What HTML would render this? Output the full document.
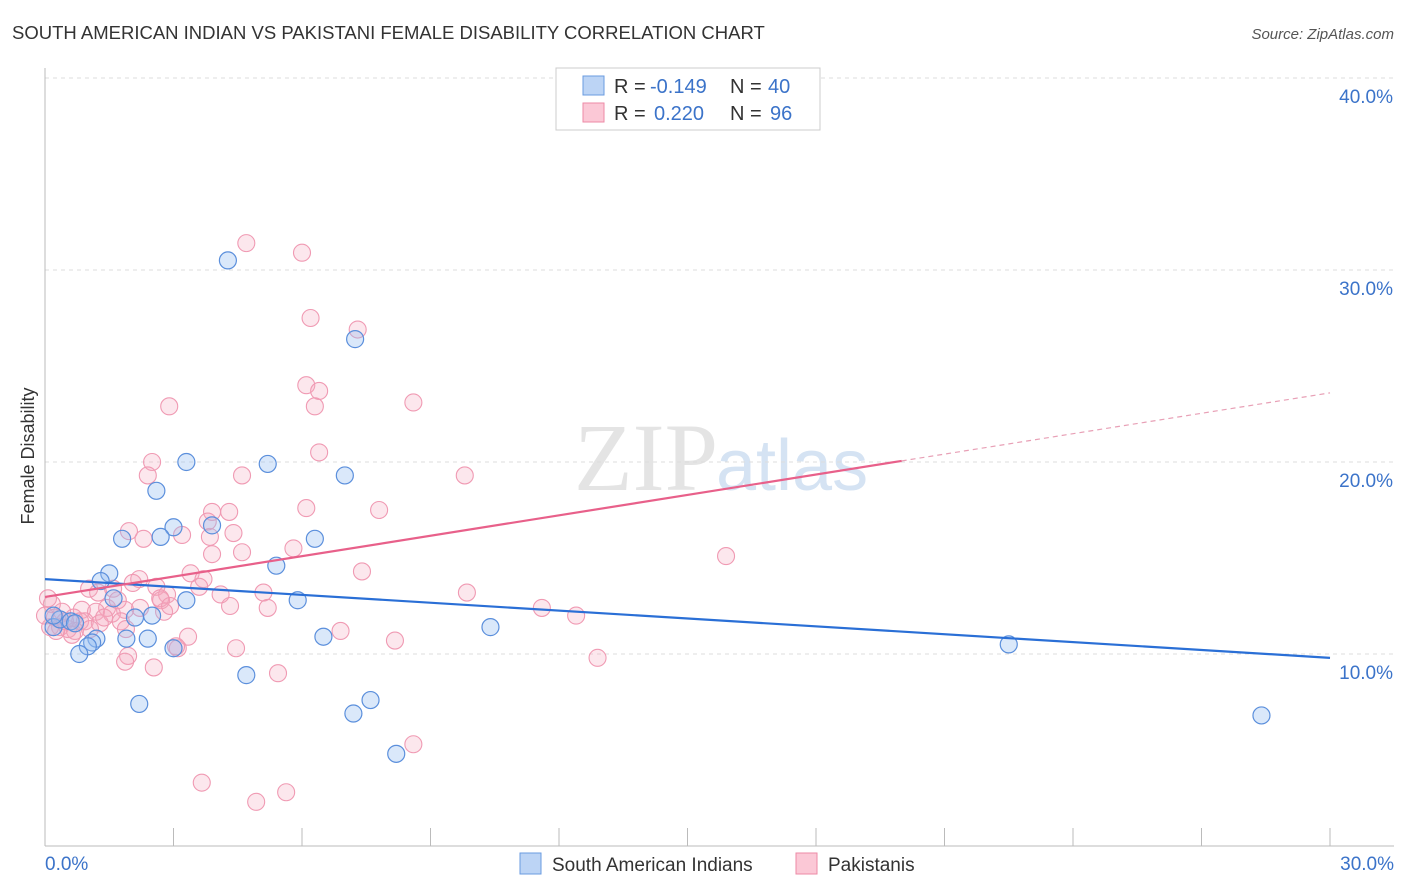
<!DOCTYPE html>
<html><head><meta charset="utf-8">
<style>
body{margin:0;background:#fff;font-family:"Liberation Sans",sans-serif;}
svg{display:block}
</style></head>
<body>
<svg id="chart" width="1406" height="892" font-family="Liberation Sans, sans-serif">
<text x="12" y="39" font-size="18.5" fill="#333">SOUTH AMERICAN INDIAN VS PAKISTANI FEMALE DISABILITY CORRELATION CHART</text>
<text x="1394" y="39" font-size="15" fill="#555" font-style="italic" text-anchor="end">Source: ZipAtlas.com</text>
<text x="34" y="456" font-size="18" fill="#333" text-anchor="middle" transform="rotate(-90 34 456)">Female Disability</text>
<text x="718" y="490" font-size="96" fill="#e4e4e4" text-anchor="end" font-family="Liberation Serif, serif">ZIP</text>
<text x="716" y="490" font-size="72" fill="#d5e3f3">atlas</text>
<g id="grid"></g><g id="pts"></g><g id="lines"></g>
<g>
<rect x="556" y="68" width="264" height="62" fill="#fff" stroke="#ccc"/>
<rect x="583" y="76" width="21" height="19" fill="#bcd4f5" stroke="#6a9be0"/>
<rect x="583" y="103" width="21" height="19" fill="#fbc8d6" stroke="#ec8aa6"/>
<text x="614" y="93" font-size="20" fill="#333">R =</text><text x="650" y="93" font-size="20" fill="#3b73c9">-0.149</text>
<text x="730" y="93" font-size="20" fill="#333">N =</text><text x="768" y="93" font-size="20" fill="#3b73c9">40</text>
<text x="614" y="120" font-size="20" fill="#333">R =</text><text x="654" y="120" font-size="20" fill="#3b73c9">0.220</text>
<text x="730" y="120" font-size="20" fill="#333">N =</text><text x="770" y="120" font-size="20" fill="#3b73c9">96</text>
</g>
<g>
<rect x="520" y="853" width="21" height="21" fill="#bcd4f5" stroke="#6a9be0"/>
<text x="552" y="871" font-size="19" fill="#333">South American Indians</text>
<rect x="796" y="853" width="21" height="21" fill="#fbc8d6" stroke="#ec8aa6"/>
<text x="828" y="871" font-size="19" fill="#333">Pakistanis</text>
</g>
</svg>
<script>
const blueX=[4.27,7.24,3.3,5.2,7.0,2.6,3.0,3.9,1.8,2.7,6.3,5.4,1.5,1.3,1.6,3.3,5.9,2.5,2.1,10.4,1.2,1.1,1.9,2.4,6.5,1.0,0.8,3.0,4.7,2.2,7.2,7.6,8.2,22.5,28.4,0.2,0.35,0.6,0.2,0.7];
const blueY=[30.5,26.4,20.0,19.9,19.3,18.5,16.6,16.7,16.0,16.1,16.0,14.6,14.2,13.8,12.9,12.8,12.8,12.0,11.9,11.4,10.8,10.6,10.8,10.8,10.9,10.4,10.0,10.3,8.9,7.4,6.9,7.6,4.8,10.5,6.8,11.4,11.8,11.7,12.0,11.6];
const pinkX=[4.7,6.0,6.2,7.3,6.1,6.4,6.3,8.6,2.9,6.4,2.5,2.4,4.6,9.8,6.1,3.9,7.8,4.3,1.96,2.3,3.2,3.85,4.4,3.8,5.8,4.6,3.9,15.9,7.4,3.4,3.7,2.2,2.05,2.6,1.03,1.24,1.59,3.6,4.1,5.1,2.85,2.71,9.85,11.6,5.2,1.87,1.45,1.19,0.86,1.56,1.77,2.78,0.67,0.82,0.4,0.16,0.07,0.23,0.35,0.54,0.7,0.93,1.28,1.89,12.4,6.9,3.34,3.1,4.46,8.17,1.94,1.87,2.54,5.44,12.9,8.6,3.66,5.63,4.93,0.12,0.26,0.47,0.63,0.0,1.05,1.38,1.7,2.22,2.69,2.92,4.32,3.06];
const pinkY=[31.4,30.9,27.5,26.9,24.0,23.7,22.9,23.1,22.9,20.5,20.0,19.3,19.3,19.3,17.6,17.4,17.5,17.4,16.4,16.0,16.2,16.1,16.3,16.9,15.5,15.3,15.2,15.1,14.3,14.2,13.9,13.9,13.7,13.5,13.4,13.2,13.4,13.5,13.1,13.2,13.1,12.8,13.2,12.4,12.4,12.3,12.4,12.2,12.3,12.1,11.7,12.2,11.9,11.7,12.2,12.6,12.9,11.9,11.4,11.3,11.2,11.7,11.6,11.3,12.0,11.2,10.9,10.3,10.3,10.7,9.9,9.6,9.3,9.0,9.8,5.3,3.3,2.8,2.3,11.4,11.2,11.7,11.0,12.0,11.3,11.9,12.8,12.4,12.9,12.5,12.5,10.4];
const blueFit=[13.9,9.8];
const pinkFit=[12.97,23.6];
const pinkSolidEnd=20.0;
const yTicks=[10,20,30,40];
const xTickLabels=["0.0%","30.0%"];
const NS="http://www.w3.org/2000/svg";
const X=v=>45+v/30*1285, Y=v=>846-v*19.2;
function mk(t,a,p){const e=document.createElementNS(NS,t);for(const k in a)e.setAttribute(k,a[k]);p.appendChild(e);return e;}
const grid=document.getElementById('grid');
yTicks.forEach(t=>{
 const l=mk('line',{x1:45,x2:1394,y1:Y(t),y2:Y(t),stroke:'#ddd','stroke-dasharray':'4,4'},grid);
 
 
 const tx=mk('text',{x:1393,y:Y(t)+25,'font-size':19,fill:'#3b73c9','text-anchor':'end'},grid);
 tx.textContent=t.toFixed(1)+'%';
 
 
});
const ax=mk('line',{x1:45,x2:45,y1:68,y2:846,stroke:'#bbb'},grid);


const bx=mk('line',{x1:45,x2:1394,y1:846,y2:846,stroke:'#bbb'},grid);


for(let i=1;i<=10;i++){const xx=45+i*128.5;const tk=mk('line',{x1:xx,x2:xx,y1:828,y2:846,stroke:'#bbb'},grid);
 
 }
xTickLabels.forEach((s,i)=>{const t=mk('text',{x:i?1394:45,y:870,'font-size':19,fill:'#3b73c9','text-anchor':i?'end':'start'},grid);t.textContent=s;
 
 });
const pts=document.getElementById('pts');
pinkX.forEach((x,i)=>{const c=mk('circle',{cx:X(x),cy:Y(pinkY[i]),r:8.5,fill:'rgba(246,170,192,0.28)',stroke:'#f09ab3','stroke-width':1.1},pts);
 
 });
blueX.forEach((x,i)=>{const c=mk('circle',{cx:X(x),cy:Y(blueY[i]),r:8.5,fill:'rgba(150,190,240,0.35)',stroke:'#5b8fdc','stroke-width':1.2},pts);
 
 });
const lines=document.getElementById('lines');
const bl=mk('line',{x1:X(0),y1:Y(blueFit[0]),x2:X(30),y2:Y(blueFit[1]),stroke:'#2a6fd6','stroke-width':2.2},lines);


const pf=v=>pinkFit[0]+(pinkFit[1]-pinkFit[0])*v/30;
const pl=mk('line',{x1:X(0),y1:Y(pf(0)),x2:X(pinkSolidEnd),y2:Y(pf(pinkSolidEnd)),stroke:'#e8608a','stroke-width':2.2},lines);


const pd=mk('line',{x1:X(pinkSolidEnd),y1:Y(pf(pinkSolidEnd)),x2:X(30),y2:Y(pf(30)),stroke:'#e8a0b6','stroke-width':1.2,'stroke-dasharray':'5,4'},lines);


</script>
</body></html>
